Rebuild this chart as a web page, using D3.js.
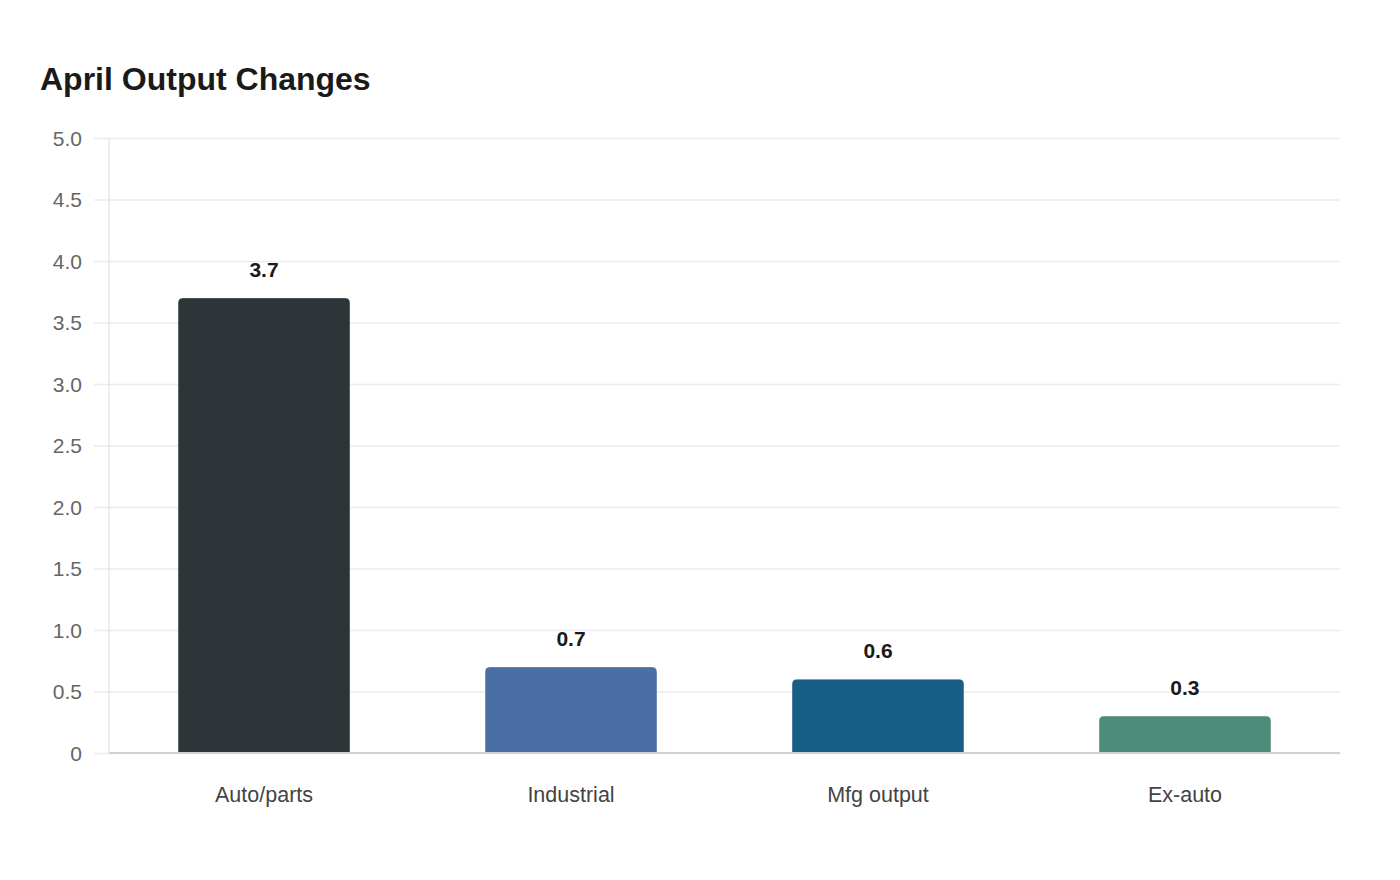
<!DOCTYPE html>
<html>
<head>
<meta charset="utf-8">
<script src="https://cdn.jsdelivr.net/npm/d3@7"></script>
<style>
  html, body { margin: 0; padding: 0; background: #fff; }
  body { font-family: "Liberation Sans", Arial, sans-serif; }
  .grid line { stroke: #ebebeb; stroke-width: 1.5; }
  .grid path { display: none; }
  .yaxis text { fill: #666; font-size: 21px; }
  .xaxis text { fill: #444; font-size: 21.5px; }
  .value { fill: #1a1a1a; font-size: 21px; font-weight: bold; }
</style>
</head>
<body>
<div id="chart"></div>
<script>
  const categories = ["Auto/parts", "Industrial", "Mfg output", "Ex-auto"];
  const values = [3.7, 0.7, 0.6, 0.3];
  const colors = ["#2e3538", "#4a6fa5", "#175f86", "#4d8c7a"];
  const yTicks = [0, 0.5, 1.0, 1.5, 2.0, 2.5, 3.0, 3.5, 4.0, 4.5, 5.0];

  const W = 1400, H = 880;
  const margin = {top: 138, right: 60, bottom: 127, left: 109};
  const width = W - margin.left - margin.right;
  const height = H - margin.top - margin.bottom;

  const svg = d3.select("#chart").append("svg")
    .attr("width", W)
    .attr("height", H);

  svg.append("text")
    .attr("x", 40)
    .attr("y", 90)
    .attr("font-size", 32)
    .attr("font-weight", "bold")
    .attr("fill", "#1a1a1a")
    .text("April Output Changes");

  const g = svg.append("g")
    .attr("transform", "translate(" + margin.left + "," + margin.top + ")");

  const x = d3.scaleBand()
    .domain(categories)
    .range([0, width])
    .paddingInner(0.44)
    .paddingOuter(0.225);

  const y = d3.scaleLinear()
    .domain([0, 5])
    .range([height, 0]);

  // gridlines (extend left past the axis like tick marks)
  g.append("g")
    .attr("class", "grid")
    .call(d3.axisLeft(y).tickValues(yTicks).tickSize(-width).tickFormat(""))
    .call(s => s.selectAll("line").attr("x1", -15));

  // y axis line
  g.append("line")
    .attr("x1", 0).attr("x2", 0)
    .attr("y1", 0).attr("y2", height)
    .attr("stroke", "#dcdcdc")
    .attr("stroke-width", 1);

  const yAxis = g.append("g")
    .attr("class", "yaxis")
    .call(d3.axisLeft(y).tickValues(yTicks)
      .tickFormat(d => d === 0 ? "0" : d3.format(".1f")(d))
      .tickSize(0).tickPadding(27));
  yAxis.select(".domain").remove();
  yAxis.selectAll("text").attr("dy", "0.35em");

  // bars: rounded top corners only
  const r = 5;
  function barPath(d, i) {
    const x0 = x(categories[i]), w = x.bandwidth();
    const y0 = y(d), y1 = y(0);
    const rr = Math.min(r, (y1 - y0));
    return "M" + x0 + "," + y1 +
      "V" + (y0 + rr) +
      "Q" + x0 + "," + y0 + " " + (x0 + rr) + "," + y0 +
      "H" + (x0 + w - rr) +
      "Q" + (x0 + w) + "," + y0 + " " + (x0 + w) + "," + (y0 + rr) +
      "V" + y1 + "Z";
  }

  g.selectAll("path.bar")
    .data(values)
    .join("path")
    .attr("class", "bar")
    .attr("d", barPath)
    .attr("fill", (d, i) => colors[i])
    .attr("stroke", "rgba(255,255,255,0.35)")
    .attr("stroke-width", 1);

  g.selectAll("text.value")
    .data(values)
    .join("text")
    .attr("class", "value")
    .attr("text-anchor", "middle")
    .attr("x", (d, i) => x(categories[i]) + x.bandwidth() / 2)
    .attr("y", d => y(d) - 21)
    .text(d => d3.format(".1f")(d));

  // baseline
  g.append("line")
    .attr("x1", 0).attr("x2", width)
    .attr("y1", height).attr("y2", height)
    .attr("stroke", "#d0d0d0")
    .attr("stroke-width", 2);

  const xAxis = g.append("g")
    .attr("class", "xaxis")
    .attr("transform", "translate(0," + height + ")")
    .call(d3.axisBottom(x).tickSize(0).tickPadding(34));
  xAxis.select(".domain").remove();
</script>
</body>
</html>
